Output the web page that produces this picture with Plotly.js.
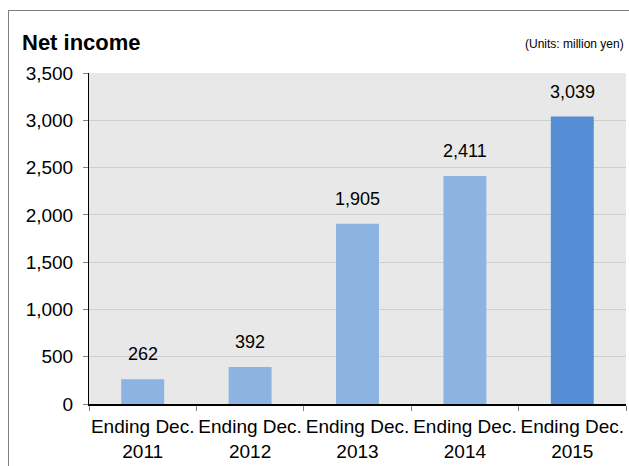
<!DOCTYPE html>
<html><head><meta charset="utf-8">
<script src="https://cdn.plot.ly/plotly-3.0.1.min.js"></script>
<style>
html,body{margin:0;padding:0;background:#fff;}
#chart{width:629px;height:466px;position:absolute;left:0;top:0;}
#frame{position:absolute;left:8px;top:10px;width:700px;height:600px;border:1px solid #7f7f7f;pointer-events:none;}
</style></head>
<body>
<div id="chart"></div>
<div id="frame"></div>
<script>
const categories = ["Ending Dec.<br>2011","Ending Dec.<br>2012","Ending Dec.<br>2013","Ending Dec.<br>2014","Ending Dec.<br>2015"];
const netIncome = [262, 392, 1905, 2411, 3039];
const barColors = ["#8DB3E2","#8DB3E2","#8DB3E2","#8DB3E2","#558ED5"];
const yTicks = [0,500,1000,1500,2000,2500,3000,3500];

const font = "Liberation Sans, Arial, sans-serif";
const trace = {
  type: 'bar', x: categories, y: netIncome,
  marker: {color: barColors, line: {width: 0}},
  width: 0.4, hoverinfo: 'none'
};
const annotations = netIncome.map((v, i) => ({
  x: categories[i], y: v, xref: 'x', yref: 'y',
  text: v.toLocaleString('en-US'), showarrow: false,
  yanchor: 'bottom', yshift: 13,
  font: {family: font, size: 18, color: '#000'}
}));
annotations.push({
  xref: 'paper', yref: 'paper', x: 1, y: 1, xanchor: 'right', yanchor: 'bottom',
  yshift: 20, text: '(Units: million yen)', showarrow: false,
  font: {family: font, size: 12, color: '#000'}
});
const layout = {
  width: 629, height: 466,
  margin: {l: 89, r: 3, t: 73, b: 62},
  paper_bgcolor: '#ffffff', plot_bgcolor: '#e8e8e8',
  title: {text: '<b>Net income</b>', x: 22/629, xanchor: 'left', y: 1 - 42/466, yanchor: 'middle',
          font: {family: font, size: 22, color: '#000'}},
  showlegend: false,
  xaxis: {
    showline: true, linecolor: '#000', linewidth: 1.5, ticks: 'outside', tickson: 'boundaries',
    ticklen: 5, tickcolor: '#808080', tickfont: {family: font, size: 19, color: '#000'},
    tickangle: 0, showgrid: false, ticklabelstandoff: 5
  },
  yaxis: {
    range: [0, 3500], tickvals: yTicks, tickformat: ',d',
    showline: true, linecolor: '#000', linewidth: 1, ticks: 'outside', ticklen: 5, tickcolor: '#808080',
    gridcolor: '#cfcfcf', gridwidth: 1, zeroline: false,
    tickfont: {family: font, size: 19, color: '#000'}, ticklabelstandoff: 6
  },
  annotations: annotations
};
Plotly.newPlot('chart', [trace], layout, {displayModeBar: false, staticPlot: true});
</script>
</body></html>
